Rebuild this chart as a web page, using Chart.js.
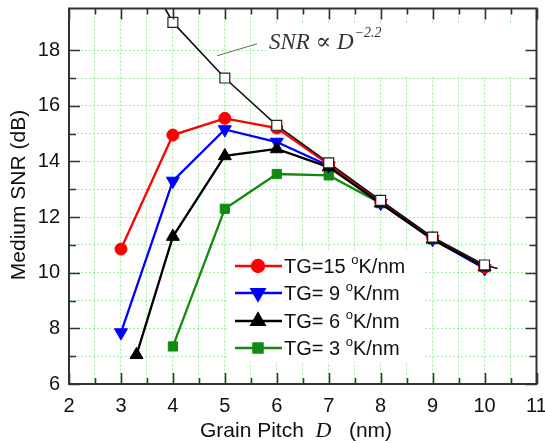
<!DOCTYPE html>
<html><head><meta charset="utf-8">
<script src="https://cdn.jsdelivr.net/npm/chart.js@4/dist/chart.umd.min.js"></script>
<style>html,body{margin:0;padding:0;background:#fff;}#wrap{width:545px;height:443px;position:relative;}</style>
</head><body><div id="wrap"><canvas id="c"></canvas></div>
<script>
// ---- data ----
const pitchX   = [3, 4, 5, 6, 7, 8, 9, 10];
const tg15     = [10.85, 14.95, 15.55, 15.2, 13.9, 12.55, 11.25, 10.2];
const tg9      = [7.85, 13.3, 15.15, 14.7, 13.85, 12.5, 11.2, 10.15];
const tg6X     = [3.3, 4, 5, 6, 7, 8, 9, 10];
const tg6      = [7.05, 11.3, 14.2, 14.45, 13.8, 12.5, 11.2, 10.2];
const tg3X     = [4, 5, 6, 7, 8, 9, 10];
const tg3      = [7.35, 12.3, 13.55, 13.5, 12.5, 11.2, 10.2];
const fitX     = [3.85, 4, 5, 6, 7, 8, 9, 10, 10.25];
const fitY     = [19.5, 19.0, 17.0, 15.3, 13.95, 12.6, 11.28, 10.28, 10.15];
const seriesLabels = ['TG=15', 'TG= 9', 'TG= 6', 'TG= 3'];
const unitLabel = 'K/nm';
const xLabelTicks = [2, 3, 4, 5, 6, 7, 8, 9, 10, 11];
const yLabelTicks = [6, 8, 10, 12, 14, 16, 18];
const xTitle = ['Grain Pitch  ', 'D', '   (nm)'];
const yTitle = 'Medium SNR (dB)';
const annot = ['SNR \u221D D', '\u22122.2'];

const pts = (xs, ys) => xs.map((x, i) => ({x, y: ys[i]}));

const ds = [
  {label: seriesLabels[0], data: pts(pitchX, tg15), borderColor: '#ff0000', backgroundColor: '#ff0000',
   pointStyle: 'circle', pointRadius: 6, order: 2},
  {label: seriesLabels[1], data: pts(pitchX, tg9), borderColor: '#0000ff', backgroundColor: '#0000ff',
   pointStyle: 'triangle', rotation: 180, pointRadius: 7.5, order: 3},
  {label: seriesLabels[2], data: pts(tg6X, tg6), borderColor: '#000000', backgroundColor: '#000000',
   pointStyle: 'triangle', pointRadius: 7.5, order: 1},
  {label: seriesLabels[3], data: pts(tg3X, tg3), borderColor: '#118a11', backgroundColor: '#118a11',
   pointStyle: 'rect', pointRadius: 6.5, order: 4},
  {label: 'fit', data: pts(fitX, fitY), borderColor: '#111', backgroundColor: '#fff', borderWidth: 1.6,
   pointStyle: 'rect', pointBorderWidth: 1.2, pointBorderColor: '#222',
   pointRadius: c => (c.dataIndex === 0 || c.dataIndex === fitX.length - 1) ? 0 : 7, order: 0}
];
ds.forEach(d => { if (d.borderWidth === undefined) d.borderWidth = 2.3; d.pointBorderWidth = d.pointBorderWidth || 1; if (!d.pointBorderColor) d.pointBorderColor = d.borderColor; });

const gridGreen = 'rgba(130,225,130,0.7)';
const sans = '"Liberation Sans", Arial, sans-serif';
const serif = '"Liberation Serif", "DejaVu Serif", serif';

const deco = {
  id: 'deco',
  beforeDatasetsDraw(chart) {
    const {ctx, scales: {x, y}} = chart;
    ctx.save();
    ctx.fillStyle = '#fff';
    ctx.fillRect(x.getPixelForValue(5.8), y.getPixelForValue(18.95), x.getPixelForValue(10.9) - x.getPixelForValue(5.8), y.getPixelForValue(17.05) - y.getPixelForValue(18.95));
    ctx.fillRect(228, 250, 197, 112);
    ctx.restore();
  },
  afterDraw(chart) {
    const {ctx, chartArea: a, scales: {x, y}} = chart;
    ctx.save();
    ctx.strokeStyle = '#333';
    ctx.lineWidth = 2;
    ctx.strokeRect(a.left, a.top, a.right - a.left, a.bottom - a.top);
    ctx.lineWidth = 1.6;
    ctx.beginPath();
    x.ticks.forEach(t => {
      const px = Math.round(x.getPixelForValue(t.value)) + 0.5;
      const len = Number.isInteger(t.value) ? 11 : 6;
      ctx.moveTo(px, a.bottom); ctx.lineTo(px, a.bottom - len);
      ctx.moveTo(px, a.top); ctx.lineTo(px, a.top + len);
    });
    y.ticks.forEach(t => {
      if (!Number.isInteger(t.value)) return;
      const py = Math.round(y.getPixelForValue(t.value)) + 0.5;
      const len = t.value % 2 === 0 ? 11 : 7;
      ctx.moveTo(a.left, py); ctx.lineTo(a.left + len, py);
      ctx.moveTo(a.right, py); ctx.lineTo(a.right - len, py);
    });
    ctx.stroke();

    ctx.strokeStyle = '#666';
    ctx.lineWidth = 1;
    ctx.beginPath();
    ctx.moveTo(x.getPixelForValue(4.85), y.getPixelForValue(17.8));
    ctx.lineTo(x.getPixelForValue(5.62), y.getPixelForValue(18.23));
    ctx.stroke();
    ctx.fillStyle = '#333';
    ctx.textBaseline = 'alphabetic';
    ctx.font = 'italic 23px ' + serif;
    const ax = x.getPixelForValue(5.85), ay = y.getPixelForValue(18.05);
    ctx.fillText(annot[0], ax, ay);
    const w0 = ctx.measureText(annot[0]).width;
    ctx.font = 'italic 14px ' + serif;
    ctx.fillText(annot[1], ax + w0 + 1, ay - 12);

    const rows = [266, 293, 321, 348];
    chart.data.datasets.slice(0, 4).forEach((d, i) => {
      const cy = rows[i];
      ctx.strokeStyle = d.borderColor;
      ctx.lineWidth = 2.3;
      ctx.beginPath(); ctx.moveTo(235, cy); ctx.lineTo(282, cy); ctx.stroke();
      ctx.fillStyle = d.backgroundColor;
      Chart.helpers.drawPoint(ctx, {pointStyle: d.pointStyle, radius: d.pointRadius, rotation: d.rotation || 0, borderWidth: 1}, 258, cy);
      ctx.fillStyle = '#111';
      ctx.font = '20px ' + sans;
      ctx.textBaseline = 'middle';
      let tx = 284;
      const base = d.label + ' ';
      ctx.fillText(base, tx, cy + 1);
      tx += ctx.measureText(base).width;
      ctx.font = '13px ' + sans;
      ctx.fillText('o', tx, cy - 6);
      tx += ctx.measureText('o').width;
      ctx.font = '20px ' + sans;
      ctx.fillText(unitLabel, tx, cy + 1);
    });

    ctx.fillStyle = '#111';
    ctx.textBaseline = 'alphabetic';
    const f1 = '21px ' + sans;
    const f2 = 'italic 22px ' + serif;
    ctx.font = f1; const wa = ctx.measureText(xTitle[0]).width, wc = ctx.measureText(xTitle[2]).width;
    ctx.font = f2; const wb = ctx.measureText(xTitle[1]).width;
    let sx = 200;
    const by = 437;
    ctx.font = f1; ctx.fillText(xTitle[0], sx, by); sx += wa;
    ctx.font = f2; ctx.fillText(xTitle[1], sx, by); sx += wb;
    ctx.font = f1; ctx.fillText(xTitle[2], sx, by);

    ctx.translate(19, 195);
    ctx.rotate(-Math.PI / 2);
    ctx.textAlign = 'center';
    ctx.textBaseline = 'middle';
    ctx.font = f1;
    ctx.fillText(yTitle, 0, 0);
    ctx.restore();
  }
};

new Chart(document.getElementById('c'), {
  type: 'line',
  data: {datasets: ds},
  options: {
    responsive: true, maintainAspectRatio: false, animation: false,
    layout: {padding: {top: 7, right: 8, left: 0, bottom: 0}},
    plugins: {legend: {display: false}, tooltip: {enabled: false}},
    scales: {
      x: {
        type: 'linear', min: 2, max: 11,
        ticks: {stepSize: 0.5, autoSkip: false, maxRotation: 0, padding: 10, color: '#111',
          font: {size: 20, family: sans},
          callback: v => xLabelTicks.includes(v) ? String(v) : ''},
        grid: {color: gridGreen, lineWidth: 1, drawTicks: false},
        border: {display: false, dash: [2, 2]},
        afterFit: s => { s.height = 59; s.paddingLeft = 0; s.paddingRight = 0; }
      },
      y: {
        type: 'linear', min: 6, max: 19.5,
        ticks: {stepSize: 1, autoSkip: false, padding: 9, color: '#111',
          font: {size: 20, family: sans},
          callback: v => yLabelTicks.includes(v) ? String(v) : ''},
        grid: {color: gridGreen, lineWidth: 1, drawTicks: false},
        border: {display: false, dash: [2, 2]},
        afterFit: s => { s.width = 69; s.paddingTop = 0; s.paddingBottom = 0; }
      }
    }
  },
  plugins: [deco]
});
</script></body></html>
